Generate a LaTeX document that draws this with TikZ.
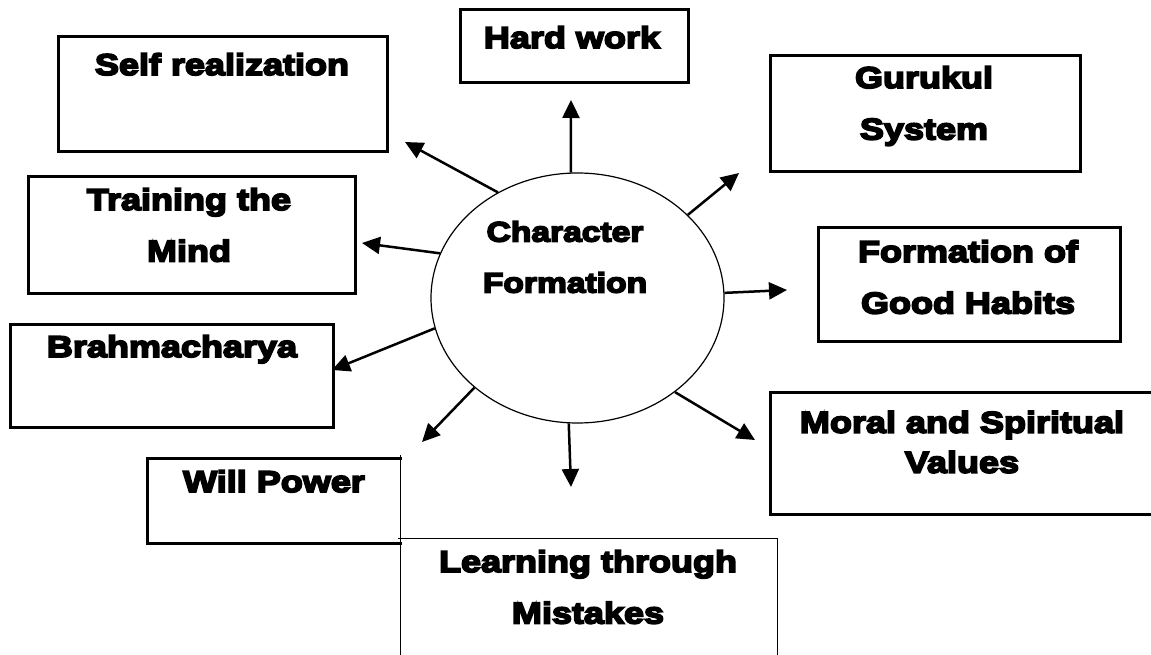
\documentclass[tikz,border=0pt]{standalone}
\usepackage{fontspec}
\newfontfamily\heavyfont{Liberation Sans Bold}[FakeBold=6,FakeStretch=1.2]
\usetikzlibrary{shapes.geometric,arrows.meta}
\begin{document}
\begin{tikzpicture}[x=1pt,y=-1pt,
    box/.style={line width=3pt},
    thin/.style={line width=1pt},
    lbl/.style={inner sep=0pt,align=center,font=\heavyfont\fontsize{30}{51.5}\selectfont},
    arr/.style={-{Triangle[length=18pt,width=17pt]},line width=2.5pt}]
    \useasboundingbox (0,0) rectangle (1151,655);

    % boxes
    \draw [box] (460,10) rectangle (688,83);
    \node [lbl,anchor=base] (hard) at (572,48) {Hard work};
    \draw [box] (58,37) rectangle (387,152);
    \node [lbl,anchor=base] (selfr) at (222,75) {Self realization};
    \draw [box] (28,177) rectangle (355,293);
    \node [lbl] (train) at (189,225) {Training the\\Mind};
    \draw [box] (10,324) rectangle (333,427);
    \node [lbl,anchor=base] (brahma) at (172,357) {Brahmacharya};
    \draw [box] (402,458) -- (147,458) -- (147,543) -- (402,543);
    \draw [thin] (400,455) -- (400,655);
    \node [lbl,anchor=base] (will) at (274,492) {Will Power};
    \draw [thin] (398,538) -- (777,538) -- (777,655);
    \node [lbl] (learn) at (588,587) {Learning through\\Mistakes};
    \draw [box] (770,56) rectangle (1080,172);
    \node [lbl] (guru) at (924,106) {Gurukul\\System};
    \draw [box] (818,228) rectangle (1120,341);
    \node [lbl] (form) at (968,277) {Formation of\\Good Habits};
    \draw [box] (1151,392) -- (770,392) -- (770,514) -- (1151,514);
    \node [lbl,font=\heavyfont\fontsize{30}{40}\selectfont] (moral) at (962,442) {Moral and Spiritual\\Values};

    % centre
    \node [draw,ellipse,line width=1.2pt,minimum width=293pt,minimum height=250pt,inner sep=0pt] (cf) at (577.5,298) {};
    \node [lbl,font=\heavyfont\fontsize{28}{51}\selectfont] (cftext) at (565,257) {Character\\Formation};

    % arrow tips
    \coordinate (tHard) at (571,100);
    \coordinate (tSelf) at (405,142);
    \coordinate (tTrain) at (362,243);
    \coordinate (tBrahma) at (332,370);
    \coordinate (tWill) at (422,442);
    \coordinate (tLearn) at (571,487);
    \coordinate (tMoral) at (755,440);
    \coordinate (tForm) at (787,290);
    \coordinate (tGuru) at (739,173);

    \draw [arr] (cf.93.4) -- (tHard);
    \draw [arr] (cf.127.8) -- (tSelf);
    \draw [arr] (cf.162.1) -- (tTrain);
    \draw [arr] (cf.192.5) -- (tBrahma);
    \draw [arr] (cf.221.4) -- (tWill);
    \draw [arr] (cf.266.6) -- (tLearn);
    \draw [arr] (cf.-44.2) -- (tMoral);
    \draw [arr] (cf.2) -- (tForm);
    \draw [arr] (cf.37) -- (tGuru);
\end{tikzpicture}
\end{document}
